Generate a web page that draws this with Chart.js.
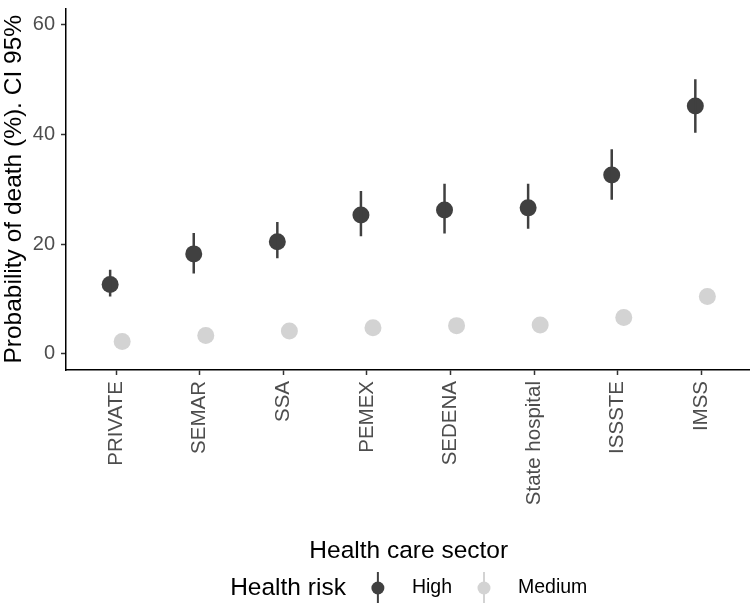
<!DOCTYPE html>
<html lang="en">
<head>
    <meta charset="UTF-8">
    <title>Probability of death by health care sector</title>
    <script src="https://cdn.jsdelivr.net/npm/chart.js"></script>
    <style>
        html, body {
            margin: 0;
            padding: 0;
            background: #ffffff;
            overflow: hidden;
        }
        /* a bit wider than the window: Chart.js keeps ~10px right padding for the rotated last label */
        #wrap {
            width: 760px;
            height: 603px;
        }
    </style>
</head>
<body>
    <div id="wrap"><canvas id="deathChart"></canvas></div>

    <script>
        // Health care sectors (x axis)
        const sectors = ['PRIVATE', 'SEMAR', 'SSA', 'PEMEX', 'SEDENA', 'State hospital', 'ISSSTE', 'IMSS'];

        // High health risk: estimate and 95% CI
        const highValues = [12.6, 18.2, 20.4, 25.3, 26.2, 26.6, 32.6, 45.2];
        const highLower  = [10.4, 14.6, 17.4, 21.4, 21.9, 22.8, 28.1, 40.3];
        const highUpper  = [15.3, 22.0, 24.0, 29.7, 31.0, 31.0, 37.3, 50.1];

        // Medium health risk: estimate
        const mediumValues = [2.2, 3.3, 4.1, 4.7, 5.1, 5.2, 6.6, 10.4];

        const yTicks = [0, 20, 40, 60];

        const highColor = '#404040';
        const mediumColor = '#d3d3d3';
        const dodge = 0.072;
        const fontFamily = '"Liberation Sans", Arial, sans-serif';

        // points shifted left/right like position_dodge
        const highPoints = highValues.map((v, i) => ({ x: i - dodge, y: v }));
        const mediumPoints = mediumValues.map((v, i) => ({ x: i + dodge, y: v }));

        // error bars as one line with gaps between sectors
        const highBars = [];
        highValues.forEach((v, i) => {
            highBars.push({ x: i - dodge, y: highLower[i] });
            highBars.push({ x: i - dodge, y: highUpper[i] });
            highBars.push({ x: i - dodge, y: null });
        });

        // legend drawn inline under the plot: "Health risk  (o) High  (o) Medium"
        const inlineLegend = {
            id: 'inlineLegend',
            afterDraw(chart) {
                const c = chart.ctx;
                const area = chart.chartArea;
                const cy = chart.height - 15;
                c.save();
                c.textBaseline = 'middle';

                c.font = '24.5px ' + fontFamily;
                const titleW = c.measureText('Health risk').width;
                c.font = '19.5px ' + fontFamily;
                const highW = c.measureText('High').width;
                const medW = c.measureText('Medium').width;

                const toKey = 32;   // text end -> key centre
                const toText = 34;  // key centre -> label start
                const total = titleW + toKey + toText + highW + toKey + toText + medW;
                let x = (area.left + area.right) / 2 - total / 2;

                c.fillStyle = '#000000';
                c.font = '24.5px ' + fontFamily;
                c.fillText('Health risk', x, cy);
                x += titleW;

                const items = [
                    { label: 'High', color: highColor, w: highW },
                    { label: 'Medium', color: mediumColor, w: medW }
                ];
                items.forEach(item => {
                    const kx = x + toKey;
                    c.strokeStyle = item.color;
                    c.lineWidth = 2;
                    c.beginPath();
                    c.moveTo(kx, cy - 16);
                    c.lineTo(kx, cy + 16);
                    c.stroke();
                    c.fillStyle = item.color;
                    c.beginPath();
                    c.arc(kx, cy, 6.5, 0, Math.PI * 2);
                    c.fill();
                    x = kx + toText;
                    c.fillStyle = '#000000';
                    c.font = '19.5px ' + fontFamily;
                    c.fillText(item.label, x, cy);
                    x += item.w;
                });
                c.restore();
            }
        };

        const ctx = document.getElementById('deathChart').getContext('2d');

        const deathChart = new Chart(ctx, {
            type: 'scatter',
            data: {
                datasets: [
                    {
                        label: 'High CI',
                        data: highBars,
                        showLine: true,
                        spanGaps: false,
                        borderColor: highColor,
                        borderWidth: 2.5,
                        pointRadius: 0,
                        pointHoverRadius: 0
                    },
                    {
                        label: 'High',
                        data: highPoints,
                        backgroundColor: highColor,
                        borderWidth: 0,
                        pointRadius: 8.5,
                        pointHoverRadius: 8.5
                    },
                    {
                        label: 'Medium',
                        data: mediumPoints,
                        backgroundColor: mediumColor,
                        borderWidth: 0,
                        pointRadius: 8.5,
                        pointHoverRadius: 8.5
                    }
                ]
            },
            options: {
                responsive: true,
                maintainAspectRatio: false,
                animation: false,
                layout: {
                    padding: { top: 1, right: 0, bottom: 30, left: 0 }
                },
                plugins: {
                    legend: { display: false },
                    tooltip: { enabled: false }
                },
                scales: {
                    x: {
                        type: 'linear',
                        min: -0.6,
                        max: sectors.length - 0.4,
                        afterBuildTicks: (scale) => {
                            scale.ticks = sectors.map((s, i) => ({ value: i }));
                        },
                        afterFit: (scale) => {
                            scale.height = 203;
                            scale.paddingLeft = 0;
                            scale.paddingRight = 0;
                        },
                        border: { display: true, color: '#000000', width: 1.5 },
                        grid: {
                            drawOnChartArea: false,
                            drawTicks: true,
                            tickLength: 5,
                            tickColor: '#333333',
                            tickWidth: 1.5
                        },
                        ticks: {
                            autoSkip: false,
                            maxRotation: 90,
                            minRotation: 90,
                            padding: 6,
                            color: '#4d4d4d',
                            font: { family: fontFamily, size: 20.5 },
                            callback: (value) => sectors[value] ?? ''
                        },
                        title: {
                            display: true,
                            text: 'Health care sector',
                            color: '#000000',
                            font: { family: fontFamily, size: 24.5 },
                            padding: { top: 4, bottom: 7 }
                        }
                    },
                    y: {
                        min: -3,
                        max: 63,
                        afterBuildTicks: (scale) => {
                            scale.ticks = yTicks.map(v => ({ value: v }));
                        },
                        afterFit: (scale) => {
                            scale.width = 66;
                            scale.paddingTop = 0;
                            scale.paddingBottom = 0;
                        },
                        border: { display: true, color: '#000000', width: 1.5 },
                        grid: {
                            drawOnChartArea: false,
                            drawTicks: true,
                            tickLength: 5,
                            tickColor: '#333333',
                            tickWidth: 1.5
                        },
                        ticks: {
                            padding: 6,
                            color: '#4d4d4d',
                            font: { family: fontFamily, size: 20 }
                        },
                        title: {
                            display: true,
                            text: 'Probability of death (%). CI 95%',
                            color: '#000000',
                            font: { family: fontFamily, size: 24.5 },
                            padding: { top: 0, bottom: 0 }
                        }
                    }
                }
            },
            plugins: [inlineLegend]
        });
    </script>
</body>
</html>
